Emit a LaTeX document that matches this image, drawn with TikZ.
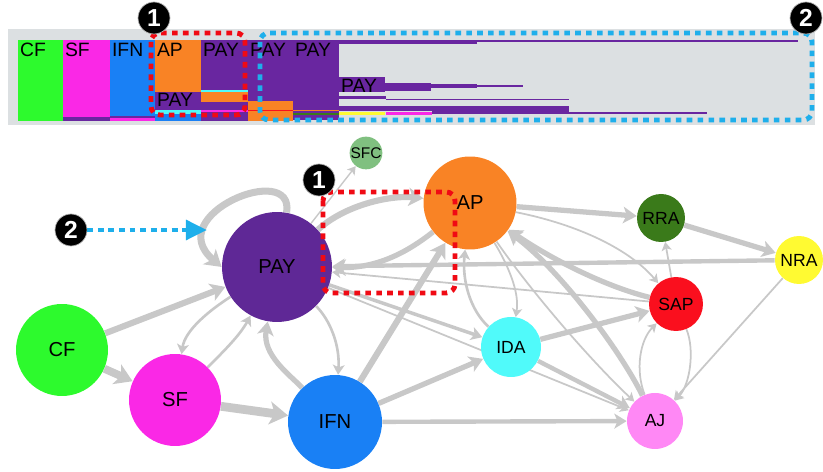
\documentclass[tikz,border=0pt]{standalone}
\usepackage{fontspec}
\setmainfont{Liberation Sans}
\usetikzlibrary{arrows.meta, positioning, calc}
\definecolor{edgegray}{RGB}{200,200,200}
\definecolor{panelgray}{RGB}{220,224,226}
\definecolor{cfgreen}{RGB}{45,250,45}
\definecolor{sfpink}{RGB}{250,40,230}
\definecolor{ifnblue}{RGB}{25,128,245}
\definecolor{paypurple}{RGB}{95,40,150}
\definecolor{barpurple}{RGB}{105,38,160}
\definecolor{aporange}{RGB}{249,131,37}
\definecolor{sfcgreen}{RGB}{128,192,128}
\definecolor{rragreen}{RGB}{58,122,26}
\definecolor{nrayellow}{RGB}{255,250,50}
\definecolor{sapred}{RGB}{250,15,30}
\definecolor{idacyan}{RGB}{80,250,250}
\definecolor{ajpink}{RGB}{255,136,245}
\definecolor{hlred}{RGB}{240,10,20}
\definecolor{hlblue}{RGB}{30,175,235}
\pgfdeclarelayer{background}
\pgfsetlayers{background,main}

\begin{document}
\begin{tikzpicture}[x=0.02cm, y=-0.02cm,
    stnode/.style={circle, inner sep=0pt, text=black, font=\fontsize{11.5}{12}\selectfont},
    smallnode/.style={stnode, font=\fontsize{10}{11}\selectfont},
    flow/.style={draw=edgegray, line width=#1, -{Stealth[length=3.5pt 1.4, width=4pt 1.8, inset=0.8pt 0.4]}},
    flow/.default=1pt,
    badge/.style={circle, fill=black, draw=gray!60, line width=0.4pt, minimum size=0.64cm, inner sep=0pt, text=white, font=\fontsize{14}{14}\selectfont\bfseries},
    barlabel/.style={anchor=north west, inner sep=1pt, font=\fontsize{11}{11}\selectfont},
    hlbox/.style={line width=2.8pt, dash pattern=on 3.2pt off 3pt, rounded corners=5pt}]
    \useasboundingbox (0,0) rectangle (823,472);

    % Top panel
    \fill[panelgray] (8,29) rectangle (815,125);
    \fill[cfgreen] (18,40) rectangle (63,121);
    \fill[sfpink] (63,40) rectangle (110,117);
    \fill[barpurple] (63,117) rectangle (110,121);
    \fill[ifnblue] (110,40) rectangle (155,116);
    \fill[barpurple] (110,116) rectangle (155,118);
    \fill[sfpink] (110,118) rectangle (155,121);
    \fill[aporange] (155,40) rectangle (201,92);
    \fill[barpurple] (155,92) rectangle (201,110);
    \fill[idacyan] (155,110) rectangle (201,114);
    \fill[ifnblue] (155,114) rectangle (201,121);
    \fill[barpurple] (201,40) rectangle (248,90);
    \fill[idacyan] (201,90) rectangle (248,92);
    \fill[aporange] (201,92) rectangle (248,102);
    \fill[barpurple] (201,102) rectangle (248,110);
    \fill[sfpink] (201,110) rectangle (248,112);
    \fill[barpurple] (201,112) rectangle (248,121);
    \fill[barpurple] (248,40) rectangle (293,101);
    \fill[aporange] (248,101) rectangle (293,110);
    \fill[sapred] (248,110) rectangle (293,111.5);
    \fill[aporange] (248,111.5) rectangle (293,121);
    \fill[barpurple] (293,40) rectangle (339,120);
    \fill[aporange] (293,110) rectangle (339,111);
    \fill[rragreen] (293,113) rectangle (339,115);
    \fill[barpurple] (339,40) rectangle (385,44.5);
    \fill[barpurple] (339,77) rectangle (385,92);
    \fill[barpurple] (339,96.5) rectangle (386,99);
    \fill[barpurple] (339,106) rectangle (569,111);
    \fill[nrayellow] (339,112.5) rectangle (385,115);
    % Thin tails
    \fill[barpurple] (385,40) rectangle (477,44);
    \fill[barpurple] (477,40.5) rectangle (798,42.5);
    \fill[barpurple] (385,83) rectangle (431,91);
    \fill[barpurple] (431,84) rectangle (477,88);
    \fill[barpurple] (477,85) rectangle (523,87);
    \fill[barpurple] (386,99) rectangle (569,100.5);
    \fill[sfpink] (386,112.5) rectangle (432,115);
    \fill[barpurple] (432,111) rectangle (569,114.5);
    \fill[barpurple] (569,112) rectangle (707,114.5);

    % Bar labels
    \node[barlabel] (lcf) at (18,41) {CF};
    \node[barlabel] (lsf) at (63,41) {SF};
    \node[barlabel] (lifn) at (110,41) {IFN};
    \node[barlabel] (lap) at (155,41) {AP};
    \node[barlabel] (lpayA) at (201,41) {PAY};
    \node[barlabel] (lpayB) at (248,41) {PAY};
    \node[barlabel] (lpayC) at (293,41) {PAY};
    \node[barlabel] (lpayD) at (155,91) {PAY};
    \node[barlabel] (lpayE) at (339,77) {PAY};

    % Highlight boxes (top)
    \draw[hlbox, hlred] (151,33) rectangle (245,115);
    \draw[hlbox, hlblue] (260,33) rectangle (812,120);

    % Graph nodes
    \node[stnode, fill=paypurple, minimum size=2.2cm] (PAY) at (277,267) {PAY};
    \node[stnode, fill=aporange, minimum size=1.86cm] (AP) at (470,203) {AP};
    \node[stnode, fill=cfgreen, minimum size=1.84cm] (CF) at (62,350) {CF};
    \node[stnode, fill=sfpink, minimum size=1.84cm] (SF) at (175,400) {SF};
    \node[stnode, fill=ifnblue, minimum size=1.88cm] (IFN) at (335,422) {IFN};
    \node[smallnode, fill=idacyan, minimum size=1.2cm] (IDA) at (511,347) {IDA};
    \node[smallnode, fill=sapred, minimum size=1.08cm] (SAP) at (676,304) {SAP};
    \node[smallnode, fill=ajpink, minimum size=1.12cm] (AJ) at (655,421) {AJ};
    \node[smallnode, fill=rragreen, minimum size=0.96cm] (RRA) at (661,218) {RRA};
    \node[smallnode, fill=nrayellow, minimum size=0.96cm] (NRA) at (799,260) {NRA};
    \node[stnode, fill=sfcgreen, minimum size=0.6cm, font=\fontsize{8.8}{9}\selectfont] (SFC) at (366,153) {SFC};

    % Transitions
    \begin{pgfonlayer}{background}
    \draw[flow=4pt] (PAY.80) .. controls (295,160) and (160,215) .. (PAY.180);
    \draw[flow=0.8pt] (PAY) -- (SFC);
    \draw[flow=3.5pt] (CF) -- (PAY);
    \draw[flow=4.5pt] (CF) -- (SF);
    \draw[flow=5pt] (SF) -- (IFN);
    \draw[flow=1.5pt] (SF) .. controls (225,350) and (240,335) .. (PAY);
    \draw[flow=1.5pt] (PAY) .. controls (210,310) and (185,330) .. (SF);
    \draw[flow=3pt] (IFN) .. controls (290,375) and (262,355) .. (PAY);
    \draw[flow=1.5pt] (PAY) .. controls (330,320) and (340,345) .. (IFN);
    \draw[flow=3.5pt] (IFN) -- (AP);
    \draw[flow=3.5pt] (PAY) .. controls (345,205) and (390,195) .. (AP);
    \draw[flow=3pt] (AP) .. controls (410,250) and (380,268) .. (PAY);
    \draw[flow=2.5pt] (NRA) -- (PAY);
    \draw[flow=1pt] (SAP) -- (PAY);
    \draw[flow=2pt] (PAY) -- (IDA);
    \draw[flow=1pt] (PAY) -- (AJ);
    \draw[flow=3pt] (IFN) -- (IDA);
    \draw[flow=2.5pt] (IFN) -- (AJ);
    \draw[flow=3pt] (AP) -- (RRA);
    \draw[flow=1pt] (AP) .. controls (580,225) and (630,250) .. (SAP);
    \draw[flow=3pt] (RRA) -- (NRA);
    \draw[flow=1pt] (SAP) -- (RRA);
    \draw[flow=1pt] (NRA) -- (AJ);
    \draw[flow=3pt] (SAP) .. controls (600,285) and (545,255) .. (AP);
    \draw[flow=3pt] (AJ) .. controls (620,350) and (560,270) .. (AP);
    \draw[flow=1pt] (AP) .. controls (530,290) and (590,360) .. (AJ);
    \draw[flow=1pt] (AP) .. controls (505,260) and (520,290) .. (IDA);
    \draw[flow=1.5pt] (IDA) .. controls (470,310) and (462,280) .. (AP);
    \draw[flow=3pt] (IDA) -- (SAP);
    \draw[flow=2.5pt] (IDA) -- (AJ);
    \draw[flow=1pt] (SAP) .. controls (695,350) and (690,385) .. (AJ);
    \draw[flow=1pt] (AJ) .. controls (635,370) and (640,340) .. (SAP);
    \end{pgfonlayer}

    % Highlight box (graph)
    \draw[hlbox, hlred] (323,192) rectangle (455,293);

    % Badges
    \node[badge] (topone) at (154,18) {1};
    \node[badge] (toptwo) at (806,18) {2};
    \node[badge] (graphone) at (319,180) {1};
    \node[badge] (graphtwo) at (71,230) {2};
    \coordinate (looptip) at (207,230);
    \draw[hlblue, line width=2.8pt, dash pattern=on 3.4pt off 2.6pt, -{Triangle[length=12pt, width=11pt]}] (graphtwo) -- (looptip);
\end{tikzpicture}
\end{document}
